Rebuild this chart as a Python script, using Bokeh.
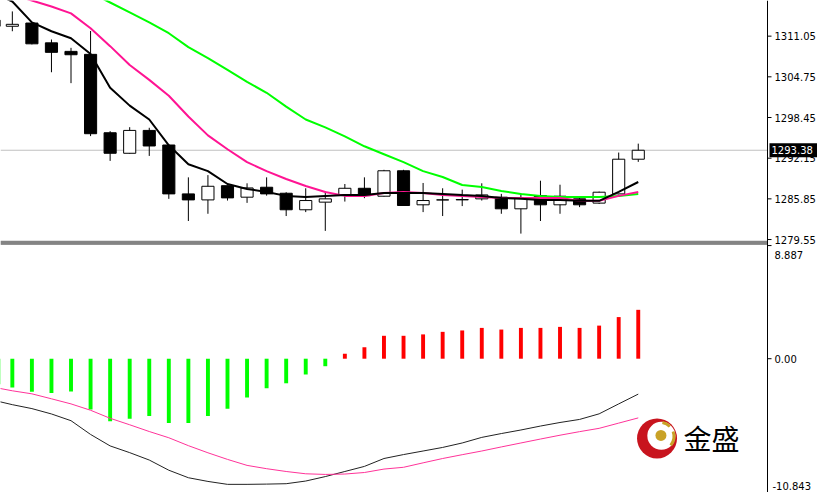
import numpy as np
from bokeh.plotting import figure
from bokeh.models import Range1d
from bokeh.core.properties import value
from bokeh.embed import file_html
from bokeh.resources import INLINE

# ---------------- data (bar 0 lies just left of the visible window) ----------------
open_ = [1313.50, 1312.58, 1313.08, 1310.01, 1308.69, 1308.23, 1296.09, 1292.91, 1296.45, 1294.19,
         1286.62, 1285.69, 1287.89, 1286.11, 1287.65, 1286.72, 1284.16, 1285.34, 1286.51, 1287.49,
         1286.26, 1290.20, 1284.93, 1285.69, 1285.69, 1285.85, 1286.11, 1284.31, 1286.35, 1284.93,
         1285.85, 1285.19, 1286.62, 1291.99]
high = [1315.20, 1314.88, 1313.24, 1310.53, 1309.24, 1311.85, 1296.34, 1296.95, 1296.86, 1294.19,
        1289.18, 1289.53, 1287.89, 1288.26, 1289.18, 1286.88, 1287.49, 1287.00, 1288.15, 1289.18,
        1290.35, 1290.35, 1288.31, 1287.49, 1287.28, 1288.26, 1286.62, 1286.72, 1288.66, 1288.04,
        1286.11, 1286.97, 1293.02, 1294.40]
low = [1311.90, 1311.81, 1309.77, 1305.46, 1303.77, 1295.57, 1291.73, 1292.85, 1292.50, 1285.85,
       1282.42, 1283.54, 1285.59, 1285.23, 1286.35, 1283.19, 1283.80, 1280.89, 1285.43, 1285.96,
       1286.20, 1284.75, 1283.80, 1283.19, 1284.73, 1285.59, 1283.54, 1280.47, 1282.42, 1283.54,
       1284.57, 1285.08, 1286.55, 1291.58]
close = [1312.60, 1312.88, 1309.86, 1308.54, 1308.17, 1295.94, 1292.91, 1296.45, 1294.04, 1286.62,
         1285.69, 1287.80, 1286.00, 1287.54, 1286.62, 1284.16, 1285.59, 1285.85, 1287.49, 1286.35,
         1290.20, 1284.82, 1285.59, 1285.69, 1285.75, 1286.46, 1284.31, 1286.00, 1284.93, 1286.26,
         1284.93, 1286.88, 1291.99, 1293.38]

ma_fast = [1317.80, 1316.42, 1313.19, 1311.81, 1310.73, 1308.27, 1303.05, 1300.29, 1298.14, 1294.14,
           1291.22, 1290.15, 1288.15, 1287.38, 1286.92, 1286.31, 1286.15, 1286.31, 1286.46, 1286.46,
           1286.77, 1286.77, 1286.77, 1286.62, 1286.46, 1286.31, 1286.00, 1285.85, 1285.69, 1285.69,
           1285.54, 1285.54, 1286.92, 1288.46]
ma_mid = [1318.41, 1317.49, 1316.57, 1315.65, 1314.57, 1312.27, 1309.50, 1306.58, 1304.28, 1301.82,
          1298.60, 1295.68, 1293.53, 1291.53, 1290.15, 1288.92, 1287.84, 1286.92, 1286.31, 1286.31,
          1286.77, 1286.92, 1286.77, 1286.46, 1286.31, 1286.15, 1286.00, 1286.00, 1286.00, 1286.00,
          1285.54, 1285.54, 1286.31, 1286.92]
ma_slow = [1325.48, 1323.94, 1322.40, 1320.87, 1319.33, 1317.80, 1316.26, 1314.72, 1313.19, 1311.50,
           1309.35, 1307.66, 1305.82, 1303.97, 1302.28, 1300.13, 1298.14, 1296.91, 1295.52, 1293.99,
           1292.76, 1291.53, 1290.15, 1289.23, 1288.00, 1287.69, 1287.08, 1286.62, 1286.31, 1286.15,
           1286.15, 1286.15, 1286.31, 1286.62]

hist = [-2.00, -2.27, -2.60, -2.70, -2.58, -3.99, -4.92, -4.71, -4.51, -5.05,
        -5.05, -4.51, -3.94, -3.04, -2.32, -1.93, -1.24, -0.59, 0.39, 0.90,
        1.80, 1.80, 1.91, 2.11, 2.22, 2.42, 2.29, 2.42, 2.42, 2.50,
        2.42, 2.60, 3.27, 3.84]
macd_line = [-3.25, -3.61, -3.92, -4.34, -4.87, -5.95, -6.85, -7.38, -7.96, -8.76,
             -9.35, -9.64, -9.87, -9.87, -9.85, -9.82, -9.61, -9.26, -8.86, -8.46,
             -7.84, -7.53, -7.25, -6.97, -6.62, -6.18, -5.88, -5.60, -5.29, -5.01,
             -4.77, -4.33, -3.55, -2.78]
signal_line = [-2.23, -2.52, -2.76, -3.15, -3.55, -4.05, -4.68, -5.19, -5.72, -6.21,
               -6.83, -7.39, -7.91, -8.38, -8.64, -8.86, -9.04, -9.09, -9.06, -8.94,
               -8.67, -8.53, -8.18, -7.84, -7.54, -7.25, -6.93, -6.62, -6.31, -6.01,
               -5.73, -5.47, -5.06, -4.65]

price_ticks = [1279.55, 1285.85, 1292.15, 1298.45, 1304.75, 1311.05]
last_price = 1293.38
macd_max_label = 8.887
macd_zero_label = 0.0
macd_min_label = -10.843
logo_text = "金盛"

# ---------------- geometry ----------------
CANVAS_W, CANVAS_H = 817, 492
PLOT_W = 767                 # width of the drawing area left of the price scale
PANEL1_H = 244               # price panel (incl. separator), MACD panel below
X0 = 0.395
PXU = 19.56                  # pixels per bar
X1 = X0 + CANVAS_W / PXU
AXIS_X = X0 + PLOT_W / PXU

P_HI = 1316.57
py1 = 6.457                  # pixels per price unit
P_LO = P_HI - CANVAS_H / py1
M_LO = -10.51
py2 = 12.73                  # pixels per MACD unit
M_HI = M_LO + CANVAS_H / py2
M_PANEL_TOP = M_LO + (CANVAS_H - PANEL1_H) / py2
P_PANEL_BOT = P_HI - PANEL1_H / py1

FONT = "DejaVu Sans"
FS = "10px"

xs = np.arange(len(close))
o = np.array(open_); c = np.array(close)
body_top = np.maximum(o, c)
body_bot = np.minimum(o, c)
body_fill = ["black" if cc < oo else "white" for oo, cc in zip(open_, close)]

p = figure(width=CANVAS_W, height=CANVAS_H, x_range=Range1d(X0, X1), y_range=Range1d(P_LO, P_HI),
           output_backend="svg", toolbar_location=None,
           x_axis_location=None, y_axis_location=None,
           min_border_left=0, min_border_right=0, min_border_top=0, min_border_bottom=0)
p.extra_y_ranges = {"macd": Range1d(M_LO, M_HI)}
p.grid.visible = False
p.outline_line_color = None
p.background_fill_color = "white"
p.border_fill_color = "white"

# ---------------- price panel ----------------
p.segment(x0=[X0], y0=[last_price], x1=[AXIS_X], y1=[last_price], line_color="#c0c0c0", line_width=1)

p.segment(x0=xs, y0=low, x1=xs, y1=high, line_color="black", line_width=1)
p.vbar(x=xs, width=0.62, top=body_top, bottom=body_bot, fill_color=body_fill,
       line_color="black", line_width=1)

p.line(xs, ma_slow, line_color="#00ff00", line_width=2)
p.line(xs, ma_mid, line_color="#ff1493", line_width=2)
p.line(xs, ma_fast, line_color="black", line_width=2)

# panel separator (4 px band: light / dark / light / dark)
p.quad(left=[X0], right=[AXIS_X], bottom=[P_PANEL_BOT], top=[P_PANEL_BOT + 4 / py1],
       fill_color="#c4c4c4", line_color=None)
p.segment(x0=[X0, X0], y0=[P_PANEL_BOT + 2.5 / py1, P_PANEL_BOT + 0.5 / py1],
          x1=[AXIS_X, AXIS_X], y1=[P_PANEL_BOT + 2.5 / py1, P_PANEL_BOT + 0.5 / py1],
          line_color="#454545", line_width=1)

# price scale (right)
p.segment(x0=[AXIS_X], y0=[P_LO], x1=[AXIS_X], y1=[P_HI], line_color="black", line_width=1)
p.segment(x0=[AXIS_X] * len(price_ticks), y0=price_ticks,
          x1=[AXIS_X + 4 / PXU] * len(price_ticks), y1=price_ticks, line_color="black", line_width=1)
p.text(x=[AXIS_X + 7 / PXU] * len(price_ticks), y=price_ticks,
       text=[f"{t:.2f}" for t in price_ticks], text_font=value(FONT), text_font_size=FS,
       text_align="left", text_baseline="middle", text_color="black")

# current price box
p.quad(left=[AXIS_X + 2 / PXU], right=[X1], bottom=[last_price - 7 / py1], top=[last_price + 7 / py1],
       fill_color="black", line_color=None)
p.text(x=[AXIS_X + 4 / PXU], y=[last_price], text=[f"{last_price:.2f}"], text_font=value(FONT),
       text_font_size=FS, text_align="left", text_baseline="middle", text_color="white")

# ---------------- MACD panel ----------------
hist_colors = ["#00ff00" if v < 0 else "#ff0000" for v in hist]
p.vbar(x=xs, width=0.2, top=hist, bottom=0, fill_color=hist_colors, line_color=None,
       y_range_name="macd")
p.line(xs, macd_line, line_color="#222222", line_width=1, y_range_name="macd")
p.line(xs, signal_line, line_color="#ff3399", line_width=1, y_range_name="macd")

macd_ticks = [macd_max_label, macd_zero_label]
p.segment(x0=[AXIS_X] * 2, y0=macd_ticks, x1=[AXIS_X + 4 / PXU] * 2, y1=macd_ticks,
          line_color="black", line_width=1, y_range_name="macd")
p.text(x=[AXIS_X + 7 / PXU], y=[M_PANEL_TOP - 10 / py2], text=[f"{macd_max_label:.3f}"],
       text_font=value(FONT), text_font_size=FS, text_align="left", text_baseline="middle",
       text_color="black", y_range_name="macd")
p.text(x=[AXIS_X + 7 / PXU], y=[macd_zero_label], text=[f"{macd_zero_label:.2f}"],
       text_font=value(FONT), text_font_size=FS, text_align="left", text_baseline="middle",
       text_color="black", y_range_name="macd")
p.text(x=[AXIS_X + 5 / PXU], y=[M_LO + 7 / py2], text=[f"{macd_min_label:.3f}"],
       text_font=value(FONT), text_font_size=FS, text_align="left", text_baseline="middle",
       text_color="black", y_range_name="macd")

# logo (watermark)
lx, ly = 33.96, -6.26
p.scatter([lx], [ly], marker="circle", size=40, fill_color="#c8141e", line_color=None, y_range_name="macd")
p.scatter([lx + 0.22], [ly + 0.2], marker="circle", size=28, fill_color="white", line_color=None,
          y_range_name="macd")
p.scatter([lx + 0.2], [ly + 0.23], marker="circle", size=11, fill_color="#c9a227", line_color=None,
          y_range_name="macd")
p.arc(x=[lx + 0.15], y=[ly + 0.16], radius=14, radius_units="screen",
      start_angle=np.deg2rad(45), end_angle=np.deg2rad(80), line_color="#c9a227", line_width=3,
      y_range_name="macd")
p.arc(x=[lx + 0.15], y=[ly + 0.16], radius=14, radius_units="screen",
      start_angle=np.deg2rad(-40), end_angle=np.deg2rad(20), line_color="#c9a227", line_width=3,
      y_range_name="macd")
p.text(x=[36.74], y=[ly], text=[logo_text], text_font=value("Noto Sans CJK SC"),
       text_font_size="28px", text_align="center", text_baseline="middle", text_color="black",
       y_range_name="macd")

open("out.html", "w").write(file_html(p, INLINE))
